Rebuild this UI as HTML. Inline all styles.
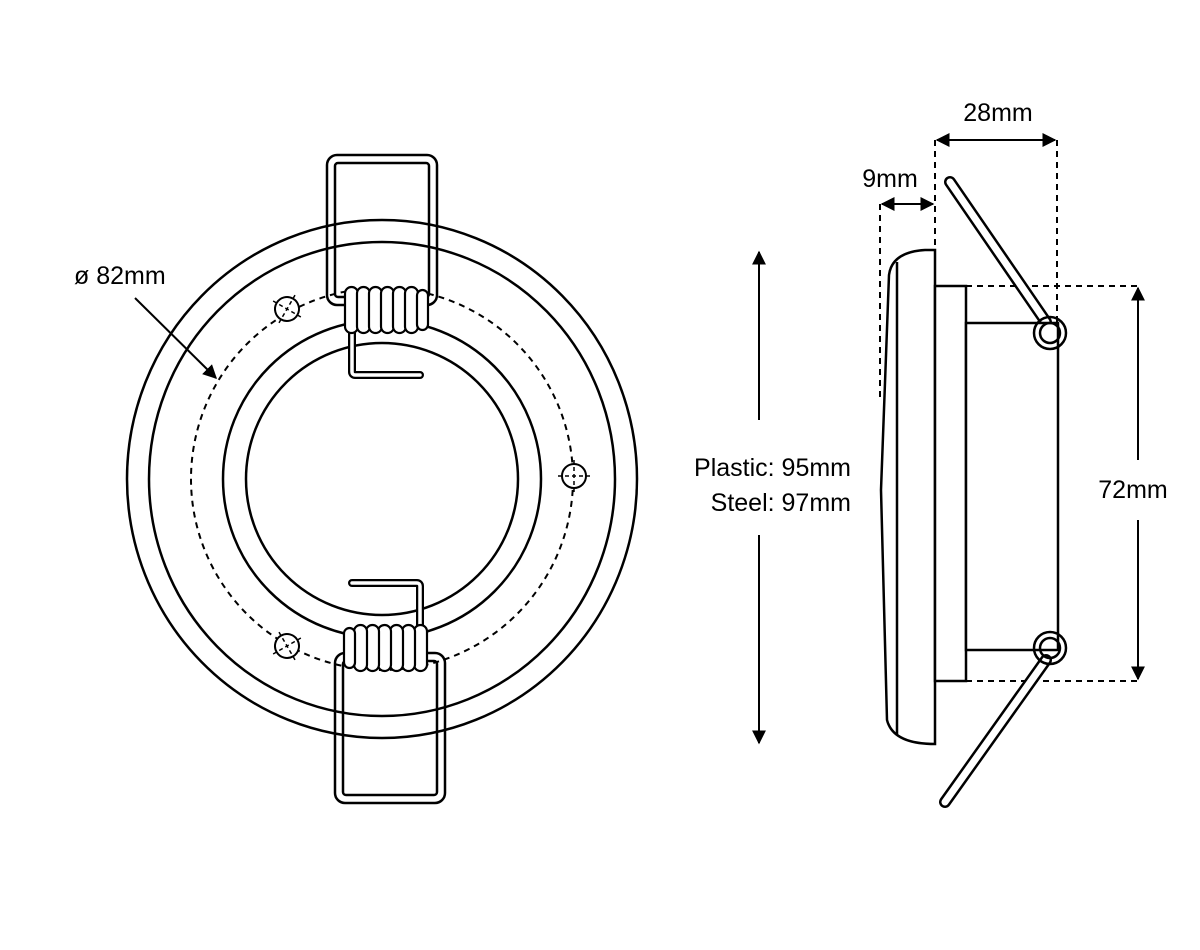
<!DOCTYPE html>
<html><head><style>body{margin:0;background:#fff}svg{display:block}text{font-family:"Liberation Sans",sans-serif;font-size:25px;fill:#000}</style></head><body>
<svg width="1200" height="950" viewBox="0 0 1200 950" xmlns="http://www.w3.org/2000/svg">
<defs>
<marker id="a" viewBox="0 0 10 10" refX="9" refY="5" markerWidth="7" markerHeight="7" orient="auto-start-reverse"><path d="M0,0 L10,5 L0,10 z" fill="#000"/></marker>
<g id="clip">
<rect x="327" y="155" width="110" height="150" rx="10" fill="none" stroke="#000" stroke-width="2.5"/>
<rect x="335" y="163" width="94" height="134" rx="3" fill="none" stroke="#000" stroke-width="2.5"/>
<path d="M352,322 V372 a3,3 0 0 0 3,3 H420" fill="none" stroke="#000" stroke-width="8" stroke-linecap="round"/>
<path d="M352,322 V372 a3,3 0 0 0 3,3 H420" fill="none" stroke="#fff" stroke-width="3.5" stroke-linecap="round"/>
<g fill="#fff" stroke="#000" stroke-width="2.2">
<rect x="345" y="287" width="13" height="46" rx="6.5"/>
<rect x="357" y="287" width="13" height="46" rx="6.5"/>
<rect x="369" y="287" width="13" height="46" rx="6.5"/>
<rect x="381" y="287" width="13" height="46" rx="6.5"/>
<rect x="393" y="287" width="13" height="46" rx="6.5"/>
<rect x="405" y="287" width="13" height="46" rx="6.5"/>
<rect x="417" y="290" width="11" height="40" rx="5.5"/>
</g>
</g>
<g id="screw"><circle r="12" fill="#fff" stroke="#000" stroke-width="2"/><path d="M-16,0 H16 M0,-16 V16" stroke="#000" stroke-width="1.5" stroke-dasharray="4,3"/></g>
</defs>
<g fill="none" stroke="#000" stroke-width="2.5">
<ellipse cx="382" cy="479" rx="255" ry="259"/>
<ellipse cx="382" cy="479" rx="233" ry="237"/>
<circle cx="382" cy="479" r="191" stroke-dasharray="6,5" stroke-width="2"/>
<circle cx="382" cy="479" r="159"/>
<circle cx="382" cy="479" r="136"/>
</g>
<use href="#screw" x="287" y="309" transform="rotate(30 287 309)"/>
<use href="#screw" x="574" y="476"/>
<use href="#screw" x="287" y="646" transform="rotate(-30 287 646)"/>
<use href="#clip"/>
<g transform="translate(8,0)"><use href="#clip" transform="rotate(180 382 479)"/></g>
<text x="74" y="284">ø 82mm</text>
<line x1="135" y1="298" x2="216" y2="378" stroke="#000" stroke-width="2" marker-end="url(#a)"/>
<line x1="759" y1="420" x2="759" y2="252" stroke="#000" stroke-width="2" marker-end="url(#a)"/>
<line x1="759" y1="535" x2="759" y2="743" stroke="#000" stroke-width="2" marker-end="url(#a)"/>
<text x="851" y="476" text-anchor="end">Plastic: 95mm</text>
<text x="851" y="511" text-anchor="end">Steel: 97mm</text>
<g fill="none" stroke="#000" stroke-width="2">
<path d="M935,140 V250 M1057,140 V330 M880,204 V400 M966,286 H1140 M966,681 H1140" stroke-dasharray="6,5"/>
</g>
<line x1="937" y1="140" x2="1055" y2="140" stroke="#000" stroke-width="2" marker-start="url(#a)" marker-end="url(#a)"/>
<line x1="882" y1="204" x2="933" y2="204" stroke="#000" stroke-width="2" marker-start="url(#a)" marker-end="url(#a)"/>
<text x="998" y="121" text-anchor="middle">28mm</text>
<text x="890" y="187" text-anchor="middle">9mm</text>
<line x1="1138" y1="460" x2="1138" y2="288" stroke="#000" stroke-width="2" marker-end="url(#a)"/>
<line x1="1138" y1="520" x2="1138" y2="679" stroke="#000" stroke-width="2" marker-end="url(#a)"/>
<text x="1133" y="498" text-anchor="middle">72mm</text>
<g stroke="#000" stroke-width="2.5" fill="#fff">
<path d="M950,182 L1046,322" stroke-width="12" stroke-linecap="round" fill="none"/>
<path d="M950,182 L1046,322" stroke="#fff" stroke-width="7" stroke-linecap="round" fill="none"/>
<path d="M1046,660 L945,802" stroke-width="12" stroke-linecap="round" fill="none"/>
<path d="M1046,660 L945,802" stroke="#fff" stroke-width="7" stroke-linecap="round" fill="none"/>
<path d="M935,250 H925 Q892,252 889,275 L881,490 L887,720 Q893,744 935,744 Z"/>
<line x1="897" y1="262" x2="897" y2="735" fill="none"/>
<rect x="935" y="286" width="31" height="395"/>
<rect x="966" y="323" width="92" height="327"/>
<circle cx="1050" cy="333" r="16" fill="none"/>
<circle cx="1050" cy="333" r="10" fill="none"/>
<circle cx="1050" cy="648" r="16" fill="none"/>
<circle cx="1050" cy="648" r="10" fill="none"/>
</g>
</svg>
</body></html>
